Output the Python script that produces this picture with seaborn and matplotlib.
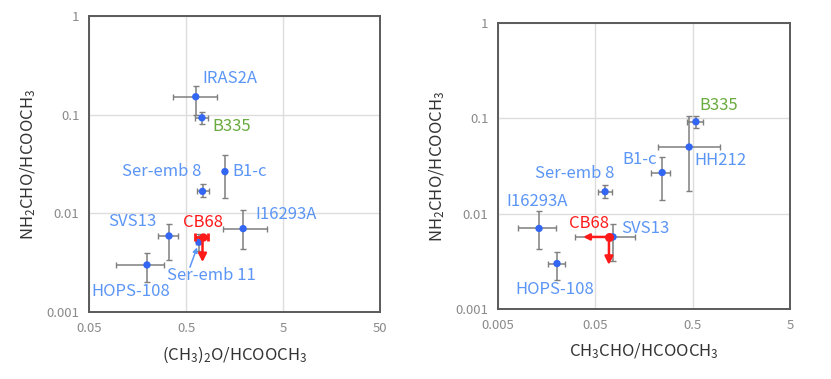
import matplotlib
matplotlib.use("Agg")
from matplotlib import pyplot as plt
import pandas as pd
import seaborn as sns

# left panel: (CH3)2O/HCOOCH3 vs NH2CHO/HCOOCH3
left_names = ['IRAS2A', 'B335', 'B1-c', 'Ser-emb 8', 'I16293A', 'SVS13', 'HOPS-108', 'Ser-emb 11']
left_x = [0.63, 0.73, 1.26, 0.74, 1.94, 0.334, 0.198, 0.68]
left_x_lo = [0.37, 0.62, 1.26, 0.65, 1.19, 0.26, 0.095, 0.64]
left_x_hi = [1.04, 0.84, 1.26, 0.86, 3.4, 0.41, 0.30, 0.73]
left_y = [0.152, 0.093, 0.0265, 0.0167, 0.0070, 0.0059, 0.0030, 0.0051]
left_y_lo = [0.10, 0.081, 0.0142, 0.0146, 0.0043, 0.0034, 0.0020, 0.0042]
left_y_hi = [0.196, 0.107, 0.039, 0.0197, 0.0107, 0.0078, 0.0040, 0.0062]
left_cb68 = dict(x=0.74, y=0.0057, x_lo=0.62, x_hi=0.84, y_lim=0.0032)

# right panel: CH3CHO/HCOOCH3 vs NH2CHO/HCOOCH3
right_names = ['B335', 'HH212', 'B1-c', 'Ser-emb 8', 'I16293A', 'HOPS-108', 'SVS13']
right_x = [0.54, 0.46, 0.243, 0.063, 0.0132, 0.0202, 0.076]
right_x_lo = [0.44, 0.22, 0.185, 0.053, 0.0080, 0.0164, 0.031]
right_x_hi = [0.64, 0.96, 0.29, 0.074, 0.0197, 0.0244, 0.128]
right_y = [0.092, 0.050, 0.027, 0.017, 0.0070, 0.0030, 0.0057]
right_y_lo = [0.080, 0.0174, 0.014, 0.0145, 0.0043, 0.0020, 0.0032]
right_y_hi = [0.107, 0.107, 0.0395, 0.0202, 0.0106, 0.0040, 0.0078]
right_cb68 = dict(x=0.069, y=0.0057, x_lim=0.0374, y_lim=0.0029)

left_xticks = [0.05, 0.5, 5, 50]
left_xticklabels = ['0.05', '0.5', '5', '50']
right_xticks = [0.005, 0.05, 0.5, 5]
right_xticklabels = ['0.005', '0.05', '0.5', '5']
yticks = [0.001, 0.01, 0.1, 1]
yticklabels = ['0.001', '0.01', '0.1', '1']

sns.set_style("white")
plt.rcParams['font.family'] = ['Noto Sans CJK JP', 'DejaVu Sans']
plt.rcParams['mathtext.default'] = 'regular'

BLUE = '#3366f2'
LBLUE = '#5b95f5'
GREEN = '#6aab3f'
GRAY = '#7f7f7f'
RED = '#ff1a1a'
FS = 12

# label offsets in pixels (dx, dy up) and alignment
left_offsets = {'IRAS2A': (7, 18, 'left'), 'B335': (10, -9, 'left'), 'Ser-emb 8': (-1, 20, 'right'),
                'B1-c': (7, 0, 'left'), 'I16293A': (12, 14, 'left'), 'SVS13': (-13, 14, 'right'),
                'HOPS-108': (-16, -27, 'center')}
right_offsets = {'B335': (3, 16, 'left'), 'HH212': (5, -13, 'left'), 'B1-c': (-5, 13, 'right'),
                 'Ser-emb 8': (9, 18, 'right'), 'I16293A': (-2, 27, 'center'),
                 'SVS13': (8, 8, 'left'), 'HOPS-108': (-2, -26, 'center')}

fig = plt.figure(figsize=(8.31, 3.79), dpi=100)
ax1 = fig.add_axes([89 / 831, 1 - 312 / 379, 291 / 831, 296 / 379])
ax2 = fig.add_axes([498 / 831, 1 - 309 / 379, 292 / 831, 286 / 379])


def draw_panel(ax, names, x, x_lo, x_hi, y, y_lo, y_hi, offsets):
    df = pd.DataFrame({'name': names, 'x': x, 'y': y})
    xerr = [[a - b for a, b in zip(x, x_lo)], [b - a for a, b in zip(x, x_hi)]]
    yerr = [[a - b for a, b in zip(y, y_lo)], [b - a for a, b in zip(y, y_hi)]]
    ax.errorbar(x, y, xerr=xerr, yerr=yerr, fmt='none', ecolor=GRAY, elinewidth=1.1,
                capsize=2.5, capthick=1, zorder=2)
    sns.scatterplot(data=df, x='x', y='y', ax=ax, color=BLUE, s=28, edgecolor='none', zorder=3)
    for n, xi, yi in zip(names, x, y):
        if n not in offsets:
            continue
        dx, dy, ha = offsets[n]
        col = GREEN if n == 'B335' else LBLUE
        ax.annotate(n, (xi, yi), xytext=(dx * 0.72, dy * 0.72), textcoords='offset points',
                    ha=ha, va='center', color=col, fontsize=FS)


def style_axes(ax, xticks, xticklabels, xlabel):
    ax.set_xscale('log')
    ax.set_yscale('log')
    ax.set_xlim(xticks[0], xticks[-1])
    ax.set_ylim(0.001, 1)
    ax.set_xticks(xticks)
    ax.set_xticklabels(xticklabels)
    ax.set_yticks(yticks)
    ax.set_yticklabels(yticklabels)
    ax.minorticks_off()
    ax.grid(True, color='#dddddd', lw=1)
    ax.set_axisbelow(True)
    ax.tick_params(length=0, labelsize=9.5, labelcolor='#8a8a8a', pad=7)
    for s in ax.spines.values():
        s.set_color('#5a5a5a')
        s.set_linewidth(1.4)
    ax.set_xlabel(xlabel, fontsize=FS, color='#333333', labelpad=7)
    ax.set_ylabel('NH$_2$CHO/HCOOCH$_3$', fontsize=FS, color='#333333', labelpad=6)


draw_panel(ax1, left_names, left_x, left_x_lo, left_x_hi, left_y, left_y_lo, left_y_hi, left_offsets)
# Ser-emb 11 label with its pointer arrow
ax1.annotate('Ser-emb 11', (left_x[-1], left_y[-1]), xytext=(12 * 0.72, -33 * 0.72),
             textcoords='offset points', ha='center', va='center', color=LBLUE, fontsize=FS)
ax1.annotate('', xy=(left_x[-1], left_y[-1]), xytext=(-9 * 0.72, -25 * 0.72),
             textcoords='offset points',
             arrowprops=dict(arrowstyle='-|>', color=LBLUE, lw=1.1, shrinkA=0, shrinkB=4,
                             mutation_scale=7))
# CB68 left
c = left_cb68
ax1.errorbar([c['x']], [c['y']], xerr=[[c['x'] - c['x_lo']], [c['x_hi'] - c['x']]], fmt='o',
             color=RED, ms=5, elinewidth=2, capsize=3, capthick=2, zorder=4)
ax1.annotate('', xy=(c['x'], c['y_lim']), xytext=(c['x'], c['y']),
             arrowprops=dict(arrowstyle='-|>', color=RED, lw=1.8, shrinkA=0, shrinkB=0,
                             mutation_scale=12), zorder=4)
ax1.annotate('CB68', (c['x'], c['y']), xytext=(0, 15 * 0.72), textcoords='offset points',
             ha='center', va='center', color=RED, fontsize=FS)
style_axes(ax1, left_xticks, left_xticklabels, '(CH$_3$)$_2$O/HCOOCH$_3$')

draw_panel(ax2, right_names, right_x, right_x_lo, right_x_hi, right_y, right_y_lo, right_y_hi, right_offsets)
c = right_cb68
ax2.scatter([c['x']], [c['y']], color=RED, s=30, zorder=4)
ax2.annotate('', xy=(c['x'], c['y_lim']), xytext=(c['x'], c['y']),
             arrowprops=dict(arrowstyle='-|>', color=RED, lw=1.8, shrinkA=0, shrinkB=0,
                             mutation_scale=12), zorder=4)
ax2.annotate('', xy=(c['x_lim'], c['y']), xytext=(c['x'], c['y']),
             arrowprops=dict(arrowstyle='-|>', color=RED, lw=1.8, shrinkA=0, shrinkB=0,
                             mutation_scale=9), zorder=4)
ax2.annotate('CB68', (c['x'], c['y']), xytext=(-20 * 0.72, 13 * 0.72), textcoords='offset points',
             ha='center', va='center', color=RED, fontsize=FS)
style_axes(ax2, right_xticks, right_xticklabels, 'CH$_3$CHO/HCOOCH$_3$')

fig.savefig('out.png', dpi=100)
